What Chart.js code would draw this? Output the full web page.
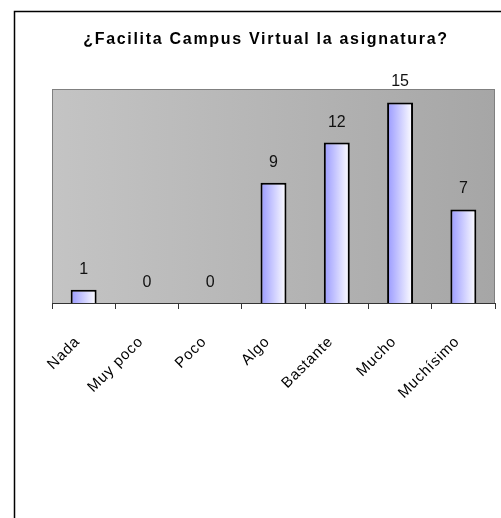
<!DOCTYPE html>
<html lang="es">
<head>
    <meta charset="UTF-8">
    <title>¿Facilita Campus Virtual la asignatura?</title>
    <script src="https://cdnjs.cloudflare.com/ajax/libs/Chart.js/4.4.0/chart.umd.min.js"></script>
    <style>
        html, body { margin: 0; padding: 0; background: #fff; }
        .chart-container { width: 501px; height: 518px; position: relative; }
    </style>
</head>
<body>
    <div class="chart-container">
        <canvas id="chart"></canvas>
    </div>

    <script>
        // Data
        const titleText = "¿Facilita Campus Virtual la asignatura?";
        const categories = ["Nada", "Muy poco", "Poco", "Algo", "Bastante", "Mucho", "Muchísimo"];
        const answers = [1, 0, 0, 9, 12, 15, 7];
        const yMax = 16;

        const barShare = 0.41;

        // Frame, grey plot background, title and value labels
        const backdrop = {
            id: "backdrop",
            beforeDraw(chart) {
                const { ctx, chartArea: a } = chart;
                ctx.save();
                ctx.fillStyle = "#fff";
                ctx.fillRect(0, 0, chart.width, chart.height);
                ctx.strokeStyle = "#000";
                ctx.lineWidth = 1.5;
                ctx.beginPath();
                ctx.moveTo(14.5, chart.height + 5);
                ctx.lineTo(14.5, 11.5);
                ctx.lineTo(chart.width + 5, 11.5);
                ctx.stroke();

                const g = ctx.createLinearGradient(a.left, 0, a.right, 0);
                g.addColorStop(0, "#c4c4c4");
                g.addColorStop(1, "#a6a6a6");
                ctx.fillStyle = g;
                ctx.fillRect(a.left, a.top, a.right - a.left, a.bottom - a.top);
                ctx.strokeStyle = "#808080";
                ctx.lineWidth = 1;
                ctx.strokeRect(a.left + 0.5, a.top + 0.5, a.right - a.left - 1, a.bottom - a.top);

                ctx.fillStyle = "#000";
                ctx.font = "bold 16px 'Liberation Sans', Arial, sans-serif";
                ctx.textAlign = "center";
                ctx.textBaseline = "middle";
                if ("letterSpacing" in ctx) ctx.letterSpacing = "1.7px";
                ctx.fillText(titleText, 266, 40);
                ctx.restore();
                // slightly spaced tick labels, like the original
                if ("letterSpacing" in ctx) ctx.letterSpacing = "0.8px";
            },
            afterDatasetsDraw(chart) {
                const { ctx } = chart;
                const meta = chart.getDatasetMeta(0);
                ctx.save();
                if ("letterSpacing" in ctx) ctx.letterSpacing = "0px";
                ctx.fillStyle = "#111";
                ctx.font = "16px 'Liberation Sans', Arial, sans-serif";
                ctx.textAlign = "center";
                ctx.textBaseline = "alphabetic";
                meta.data.forEach((bar, i) => {
                    ctx.fillText(String(answers[i]), bar.x, bar.y - 16);
                });
                ctx.restore();
            },
            afterDraw(chart) {
                if ("letterSpacing" in chart.ctx) chart.ctx.letterSpacing = "0px";
            }
        };

        function barFill(c) {
            const chart = c.chart;
            const a = chart.chartArea;
            const xs = chart.scales.x;
            if (!a || !xs || c.dataIndex === undefined) return "#9999ff";
            const cx = xs.getPixelForValue(c.dataIndex);
            const half = (a.right - a.left) / categories.length * barShare / 2;
            if (!Number.isFinite(cx) || !Number.isFinite(half)) return "#9999ff";
            const g = chart.ctx.createLinearGradient(cx - half, 0, cx + half, 0);
            g.addColorStop(0, "#9999ff");
            g.addColorStop(1, "#ffffff");
            return g;
        }

        const ctx = document.getElementById("chart").getContext("2d");

        new Chart(ctx, {
            type: "bar",
            data: {
                labels: categories,
                datasets: [{
                    label: titleText,
                    data: answers,
                    backgroundColor: barFill,
                    borderColor: "#000",
                    borderWidth: 2,
                    borderSkipped: "bottom",
                    categoryPercentage: barShare,
                    barPercentage: 1
                }]
            },
            options: {
                responsive: true,
                maintainAspectRatio: false,
                animation: false,
                layout: { padding: { left: 52, right: 6, top: 89, bottom: 0 } },
                plugins: {
                    legend: { display: false },
                    title: { display: false },
                    tooltip: { enabled: false }
                },
                scales: {
                    x: {
                        grid: {
                            offset: true,
                            drawOnChartArea: false,
                            drawTicks: true,
                            tickLength: 6,
                            color: "#333"
                        },
                        border: { color: "#333", width: 1 },
                        ticks: {
                            maxRotation: 45,
                            minRotation: 45,
                            padding: 24,
                            labelOffset: -6,
                            color: "#000",
                            font: { family: "'Liberation Sans', Arial, sans-serif", size: 15 }
                        },
                        afterFit(scale) {
                            scale.height = 215;
                            scale.paddingLeft = 0;
                            scale.paddingRight = 0;
                        }
                    },
                    y: {
                        display: false,
                        min: 0,
                        max: yMax
                    }
                }
            },
            plugins: [backdrop]
        });
    </script>
</body>
</html>
